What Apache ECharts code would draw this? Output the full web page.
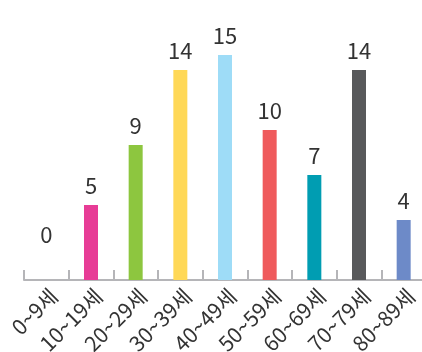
<!DOCTYPE html>
<html>
<head>
<meta charset="utf-8">
<script src="https://cdn.jsdelivr.net/npm/echarts@6/dist/echarts.min.js"></script>
<style>
  html, body { margin: 0; padding: 0; background: #fff; }
  #chart { width: 422px; height: 352px; }
</style>
</head>
<body>
<div id="chart"></div>
<script>
const ageGroups = ['0~9세', '10~19세', '20~29세', '30~39세', '40~49세', '50~59세', '60~69세', '70~79세', '80~89세'];
const counts = [0, 5, 9, 14, 15, 10, 7, 14, 4];
const barColors = ['#cccccc', '#e73c96', '#8dc63f', '#ffd857', '#9edcf7', '#ef5a5c', '#009db2', '#58595b', '#6d8ac8'];

const myChart = echarts.init(document.getElementById('chart'));

const option = {
  animation: false,
  grid: {
    left: 24,
    top: 10,
    width: 402,
    height: 270,
    outerBoundsMode: 'none'
  },
  xAxis: {
    type: 'category',
    data: ageGroups,
    axisLine: { lineStyle: { color: '#b5b5b8', width: 2 } },
    axisTick: { show: true, inside: true, length: 10, lineStyle: { color: '#b5b5b8', width: 2 } },
    axisLabel: {
      rotate: 45,
      margin: 5,
      verticalAlign: 'top',
      color: '#333',
      fontSize: 21,
      fontFamily: 'Noto Sans CJK KR'
    }
  },
  yAxis: {
    type: 'value',
    min: 0,
    max: 18,
    show: false,
    splitLine: { show: false }
  },
  series: [{
    type: 'bar',
    barWidth: 14,
    data: counts.map(function (v, i) {
      const item = { value: v, itemStyle: { color: barColors[i] } };
      if (v === 0) item.label = { offset: [0, -26] };
      return item;
    }),
    label: {
      show: true,
      position: 'top',
      distance: 8,
      color: '#333',
      fontSize: 22,
      fontFamily: 'Noto Sans CJK KR'
    }
  }]
};

myChart.setOption(option);
</script>
</body>
</html>
